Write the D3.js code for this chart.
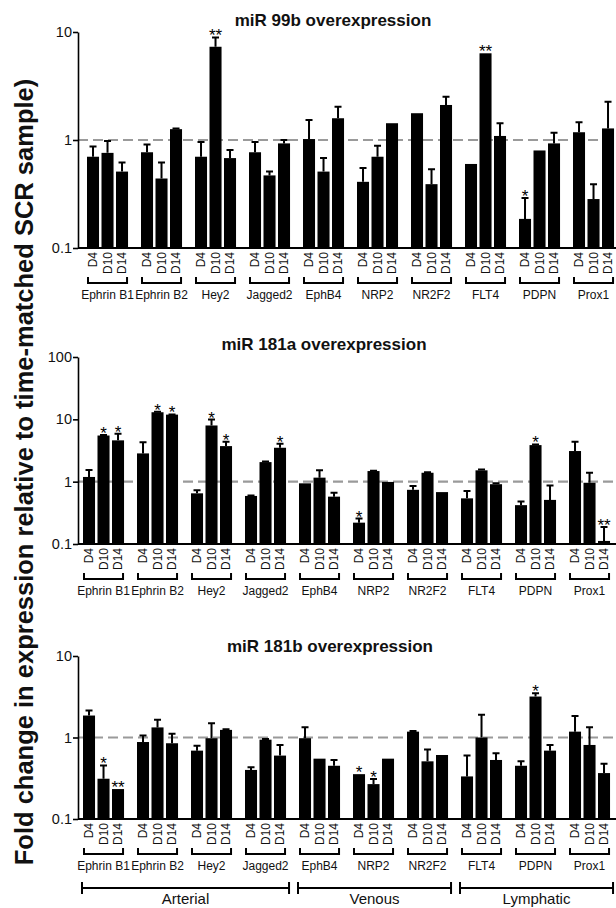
<!DOCTYPE html>
<html lang="en">
<head>
<meta charset="UTF-8">
<script src="https://d3js.org/d3.v7.min.js"></script>
<title>miR overexpression</title>
<style>
  html, body { margin: 0; padding: 0; background: #fff; }
  svg { display: block; font-family: 'Liberation Sans', Arial, sans-serif; }
</style>
</head>
<body>
<div id="wrapper"></div>
<script>

// genes + time points
const groups = ["Ephrin B1", "Ephrin B2", "Hey2", "Jagged2", "EphB4", "NRP2", "NR2F2", "FLT4", "PDPN", "Prox1"];
const days = ["D4", "D10", "D14"];
const lineages = ["Arterial", "Venous", "Lymphatic"];
const lineageFirst = ["Ephrin B1", "EphB4", "FLT4"];
const lineageLast = ["Jagged2", "NR2F2", "Prox1"];

const titles = ["miR 99b overexpression", "miR 181a overexpression", "miR 181b overexpression"];
const yTicks = [[0.1, 1, 10], [0.1, 1, 10, 100], [0.1, 1, 10]];
const yDomains = [[0.1, 10], [0.1, 100], [0.1, 10]];

// fold change (bar heights), 3 per gene: D4, D10, D14
const mir99bMean = [0.70, 0.76, 0.51, 0.77, 0.44, 1.26, 0.70, 7.3, 0.68, 0.77, 0.47, 0.93, 1.02, 0.51, 1.59,
  0.41, 0.70, 1.43, 1.77, 0.39, 2.11, 0.60, 6.35, 1.09, 0.186, 0.80, 0.93, 1.18, 0.284, 1.28];
const mir99bErr = [0.87, 0.98, 0.62, 0.91, 0.62, 1.28, 0.96, 8.9, 0.81, 0.96, 0.51, 1.0, 1.53, 0.68, 2.03,
  0.55, 0.886, null, null, 0.535, 2.52, null, null, 1.43, 0.29, null, 1.17, 1.46, 0.39, 2.26];
const mir99bSig = ["", "", "", "", "", "", "", "**", "", "", "", "", "", "", "",
  "", "", "", "", "", "", "", "**", "", "*", "", "", "", "", ""];

const mir181aMean = [1.19, 5.5, 4.6, 2.84, 13.0, 11.9, 0.65, 7.97, 3.72, 0.59, 2.06, 3.5, 0.94, 1.16, 0.575,
  0.22, 1.48, 0.99, 0.74, 1.39, 0.68, 0.54, 1.52, 0.91, 0.42, 3.86, 0.51, 3.1, 0.96, 0.112];
const mir181aErr = [1.54, 5.6, 5.86, 4.3, 13.2, 12.0, 0.73, 9.9, 4.37, 0.6, 2.1, 4.05, null, 1.52, 0.667,
  0.256, 1.5, null, 0.85, 1.42, null, 0.71, 1.57, 0.94, 0.48, 3.95, 0.87, 4.37, 1.39, 0.188];
const mir181aSig = ["", "*", "*", "", "*", "*", "", "*", "*", "", "", "*", "", "", "",
  "*", "", "", "", "", "", "", "", "", "", "*", "", "", "", "**"];

const mir181bMean = [1.86, 0.312, 0.233, 0.88, 1.33, 0.85, 0.69, 0.98, 1.24, 0.40, 0.94, 0.60, 0.98, 0.55, 0.45,
  0.355, 0.268, 0.55, 1.18, 0.51, 0.61, 0.333, 1.0, 0.53, 0.45, 3.18, 0.69, 1.18, 0.81, 0.366];
const mir181bErr = [2.14, 0.454, null, 1.06, 1.65, 1.11, 0.79, 1.5, 1.26, 0.43, 0.96, 0.81, 1.34, null, 0.53,
  null, 0.31, null, 1.2, 0.71, null, 0.6, 1.9, 0.64, 0.51, 3.49, 0.81, 1.84, 1.34, 0.476];
const mir181bSig = ["", "*", "**", "", "", "", "", "", "", "", "", "", "", "", "",
  "*", "*", "", "", "", "", "", "", "", "", "*", "", "", "", ""];

const means = [mir99bMean, mir181aMean, mir181bMean];
const errs = [mir99bErr, mir181aErr, mir181bErr];
const sigs = [mir99bSig, mir181aSig, mir181bSig];

// layout
const width = 616, height = 908;
const axisX = 78;
const groupStep = 54;
const panels = [
  { top: 32, bottom: 248, titleX: 333, titleY: 26, barStart: 87 },
  { top: 357, bottom: 544, titleX: 324, titleY: 350, barStart: 83 },
  { top: 656, bottom: 819, titleX: 330, titleY: 652, barStart: 83 }
];

const svg = d3.select("#wrapper").append("svg")
  .attr("width", width)
  .attr("height", height);

svg.append("rect").attr("width", width).attr("height", height).attr("fill", "#fff");

let lastXScale;

panels.forEach((p, pi) => drawPanel(p, pi));
drawLineages();
drawYLabel();

function drawPanel(p, pi) {
  const g = svg.append("g");

  const yScale = d3.scaleLog()
    .domain(yDomains[pi])
    .range([p.bottom, p.top]);

  const xScale = d3.scaleBand()
    .domain(groups)
    .range([p.barStart, p.barStart + groupStep * (groups.length - 0.24)])
    .paddingInner(0.24)
    .paddingOuter(0);
  lastXScale = xScale;

  const dayScale = d3.scaleBand()
    .domain(days)
    .range([0, xScale.bandwidth()])
    .paddingInner(0.17)
    .paddingOuter(0);

  const rows = [];
  groups.forEach((grp, gi) => {
    days.forEach((d, di) => {
      const i = gi * 3 + di;
      rows.push({ group: grp, day: d, v: means[pi][i], e: errs[pi][i], s: sigs[pi][i] });
    });
  });
  const xOf = r => xScale(r.group) + dayScale(r.day);
  const bw = dayScale.bandwidth();

  // dashed reference at 1
  g.append("line")
    .attr("x1", axisX).attr("x2", width)
    .attr("y1", yScale(1)).attr("y2", yScale(1))
    .attr("stroke", "#9a9a9a")
    .attr("stroke-width", 2.2)
    .attr("stroke-dasharray", "10,5");

  // error bars
  const errRows = rows.filter(r => r.e != null);
  g.selectAll(".err")
    .data(errRows)
    .join("path")
    .attr("d", r => {
      const cx = xOf(r) + bw / 2;
      const y0 = yScale(r.v), y1 = yScale(r.e);
      return `M${cx},${y0}V${y1}M${cx - 3.5},${y1}H${cx + 3.5}`;
    })
    .attr("stroke", "#000")
    .attr("stroke-width", 2)
    .attr("fill", "none");

  // bars
  g.selectAll(".bar")
    .data(rows)
    .join("rect")
    .attr("x", xOf)
    .attr("width", bw)
    .attr("y", r => yScale(r.v))
    .attr("height", r => yScale(0.1) - yScale(r.v))
    .attr("fill", "#000");

  // significance stars
  g.selectAll(".sig")
    .data(rows.filter(r => r.s))
    .join("text")
    .attr("x", r => xOf(r) + bw / 2)
    .attr("y", r => yScale(r.e != null ? r.e : r.v) + 4)
    .attr("text-anchor", "middle")
    .attr("font-size", 17)
    .attr("fill", "#000")
    .text(r => r.s);

  // y axis
  const yAxis = g.append("g")
    .attr("transform", `translate(${axisX},0)`)
    .call(d3.axisLeft(yScale).tickValues(yTicks[pi]).tickFormat(d3.format("")).tickSize(5).tickSizeOuter(0));
  yAxis.select(".domain").attr("stroke-width", 1.6);
  yAxis.selectAll(".tick line").attr("stroke-width", 1.6);
  yAxis.selectAll(".tick text")
    .attr("font-size", 14.5)
    .attr("font-family", "'Liberation Sans', Arial, sans-serif")
    .attr("fill", "#111")
    .attr("x", -6);

  // baseline
  g.append("line")
    .attr("x1", axisX).attr("x2", width)
    .attr("y1", yScale(0.1)).attr("y2", yScale(0.1))
    .attr("stroke", "#000").attr("stroke-width", 2);

  // D4/D10/D14 labels per gene
  groups.forEach(grp => {
    const ax = g.append("g")
      .attr("transform", `translate(${xScale(grp)},${yScale(0.1)})`)
      .call(d3.axisBottom(dayScale).tickSize(0));
    ax.select(".domain").remove();
    ax.selectAll(".tick text")
      .attr("font-size", 12)
      .attr("font-family", "'Liberation Sans', Arial, sans-serif")
      .attr("fill", "#111")
      .attr("transform", "rotate(-90)")
      .attr("text-anchor", "end")
      .attr("x", -4)
      .attr("y", 0)
      .attr("dy", "0.35em");
  });

  // brackets under each gene
  const by = yScale(0.1) + 35;
  g.selectAll(".bracket")
    .data(groups)
    .join("path")
    .attr("d", grp => {
      const x0 = xScale(grp) + 1, x1 = xScale(grp) + xScale.bandwidth() - 1;
      return `M${x0},${by - 6}V${by}H${x1}V${by - 6}`;
    })
    .attr("stroke", "#000").attr("stroke-width", 2).attr("fill", "none");

  g.selectAll(".glabel")
    .data(groups)
    .join("text")
    .attr("x", grp => xScale(grp) + xScale.bandwidth() / 2)
    .attr("y", yScale(0.1) + 51)
    .attr("text-anchor", "middle")
    .attr("font-size", 12)
    .attr("fill", "#111")
    .text(grp => grp);

  // title
  g.append("text")
    .attr("x", p.titleX)
    .attr("y", p.titleY)
    .attr("text-anchor", "middle")
    .attr("font-size", 17)
    .attr("font-weight", "bold")
    .attr("fill", "#111")
    .text(titles[pi]);
}

function drawLineages() {
  const x = lastXScale;
  const ly = 888;
  lineages.forEach((name, i) => {
    const x0 = x(lineageFirst[i]) - 1;
    const x1 = x(lineageLast[i]) + x.bandwidth() + 3;
    svg.append("path")
      .attr("d", `M${x0},${ly - 6}V${ly + 6}M${x0},${ly}H${x1}M${x1},${ly - 6}V${ly + 6}`)
      .attr("stroke", "#000").attr("stroke-width", 2).attr("fill", "none");
    svg.append("text")
      .attr("x", (x0 + x1) / 2)
      .attr("y", 904)
      .attr("text-anchor", "middle")
      .attr("font-size", 15)
      .attr("fill", "#111")
      .text(name);
  });
}

function drawYLabel() {
  svg.append("text")
    .attr("transform", "translate(33,472) rotate(-90)")
    .attr("text-anchor", "middle")
    .attr("font-size", 25.5)
    .attr("font-weight", "bold")
    .attr("fill", "#111")
    .text("Fold change in expression relative to time-matched SCR sample)");
}

</script>
</body>
</html>
